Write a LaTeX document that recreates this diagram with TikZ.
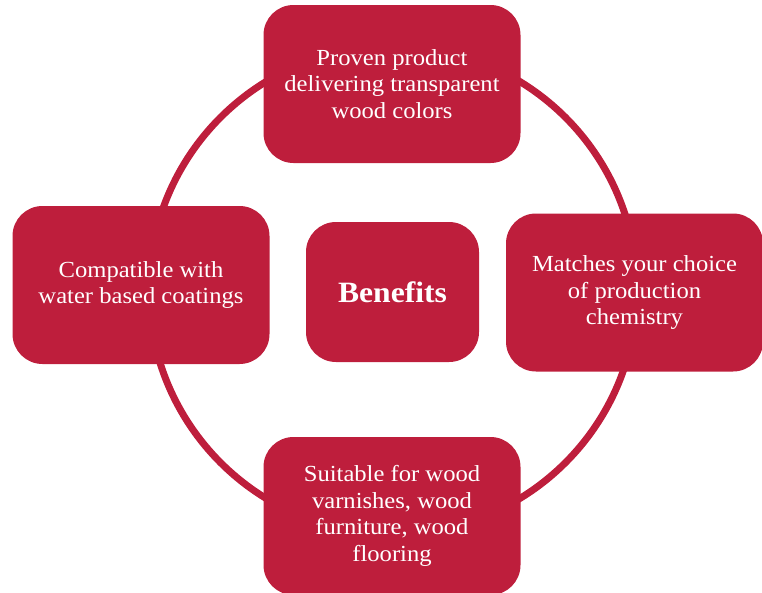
\documentclass[tikz,border=0pt]{standalone}
\usepackage{fontspec}
\setmainfont[FakeStretch=1.07]{Liberation Serif}
\definecolor{crimson}{RGB}{190,30,60}
\tikzset{
  benefitbox/.style={fill=crimson, rounded corners=30pt, minimum width=257pt, minimum height=158pt,
    inner sep=0pt, text=white, align=center, font=\fontsize{23}{26.7}\selectfont},
  centerbox/.style={fill=crimson, rounded corners=30pt, minimum width=173pt, minimum height=140pt,
    inner sep=0pt, text=white, align=center, font=\fontsize{29.5}{33}\selectfont\bfseries},
  ring/.style={draw=crimson, line width=7pt}
}
\begin{document}
\begin{tikzpicture}[x=1pt,y=-1pt]
\useasboundingbox (0,0) rectangle (762,592);
\coordinate (o) at (393,290);
\draw[ring] (o) circle (244pt);
\node[benefitbox] (top) at (392,84) {Proven product\\delivering transparent\\wood colors};
\node[benefitbox] (left) at (141,285) {Compatible with\\water based coatings};
\node[benefitbox] (right) at (634.5,292.5) {Matches your choice\\of production\\chemistry};
\node[benefitbox] (bottom) at (392,516) {Suitable for wood\\varnishes, wood\\furniture, wood\\flooring};
\node[centerbox] (center) at (392.5,292) {Benefits};
\end{tikzpicture}
\end{document}
